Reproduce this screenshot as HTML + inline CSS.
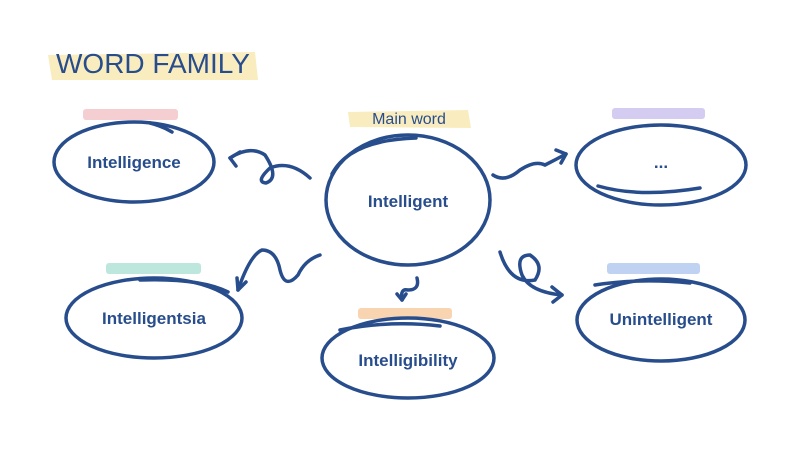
<!DOCTYPE html>
<html><head><style>
body{margin:0;background:#fff;width:800px;height:450px;overflow:hidden;font-family:"Liberation Sans",sans-serif}
</style></head><body>
<svg width="800" height="450" viewBox="0 0 800 450" xmlns="http://www.w3.org/2000/svg">
<g fill-opacity="0.9">
<path d="M48 55 L255 52 L258 80 L52 80 Z" fill="#f8eab8"/>
<path d="M348 112 L468 110 L471 128 L350 127 Z" fill="#f8eab8"/>
<rect x="83" y="109" width="95" height="11" rx="3" fill="#f3c9cb"/>
<rect x="612" y="108" width="93" height="11" rx="3" fill="#cfc6f0"/>
<rect x="106" y="263" width="95" height="11" rx="3" fill="#b6e3d9"/>
<rect x="358" y="308" width="94" height="11" rx="3" fill="#f8cfa8"/>
<rect x="607" y="263" width="93" height="11" rx="3" fill="#b8cdf0"/>
</g>
<g fill="none" stroke="#284d8c" stroke-width="3.5" stroke-linecap="round">
<ellipse cx="134" cy="162" rx="80" ry="40"/>
<path d="M150 123 Q162 126 172 132"/>
<ellipse cx="408" cy="200" rx="82" ry="65"/>
<path d="M332 174 Q350 140 416 138"/>
<ellipse cx="661" cy="165" rx="85" ry="40"/>
<path d="M598 186 Q640 198 700 188"/>
<ellipse cx="154" cy="318" rx="88" ry="40"/>
<path d="M140 280 Q200 278 228 292"/>
<ellipse cx="408" cy="358" rx="86" ry="40"/>
<path d="M340 330 Q390 320 440 326"/>
<ellipse cx="661" cy="320" rx="84" ry="41"/>
<path d="M595 285 Q640 278 690 283"/>
<path d="M310 178 Q290 160 270 168 Q255 182 266 183 Q280 178 265 155 Q250 145 230 158"/>
<path d="M230 158 L240 152 M230 158 L236 166"/>
<path d="M493 175 Q505 183 520 170 Q535 160 545 165 Q555 160 566 154"/>
<path d="M566 154 L556 150 M566 154 L561 163"/>
<path d="M320 255 Q305 260 298 275 Q285 290 280 270 Q276 250 262 250 Q250 255 238 290"/>
<path d="M238 290 L237 278 M238 290 L246 282"/>
<path d="M417 278 Q420 290 408 290 Q400 288 402 300"/>
<path d="M402 300 L397 294 M402 300 L406 294"/>
<path d="M500 252 Q510 285 535 280 Q545 265 530 255 Q515 255 522 275 Q530 292 562 295"/>
<path d="M562 295 L552 287 M562 295 L553 302"/>
</g>
<g fill="#284d8c" font-weight="bold" font-size="17" text-anchor="middle">
<text x="134" y="168">Intelligence</text>
<text x="408" y="207">Intelligent</text>
<text x="661" y="168">...</text>
<text x="154" y="324">Intelligentsia</text>
<text x="408" y="366">Intelligibility</text>
<text x="661" y="325">Unintelligent</text>
</g>
<text x="56" y="73" fill="#284d8c" font-size="28">WORD FAMILY</text>
<text x="409" y="124" fill="#284d8c" font-size="16" text-anchor="middle">Main word</text>
</svg>
</body></html>
